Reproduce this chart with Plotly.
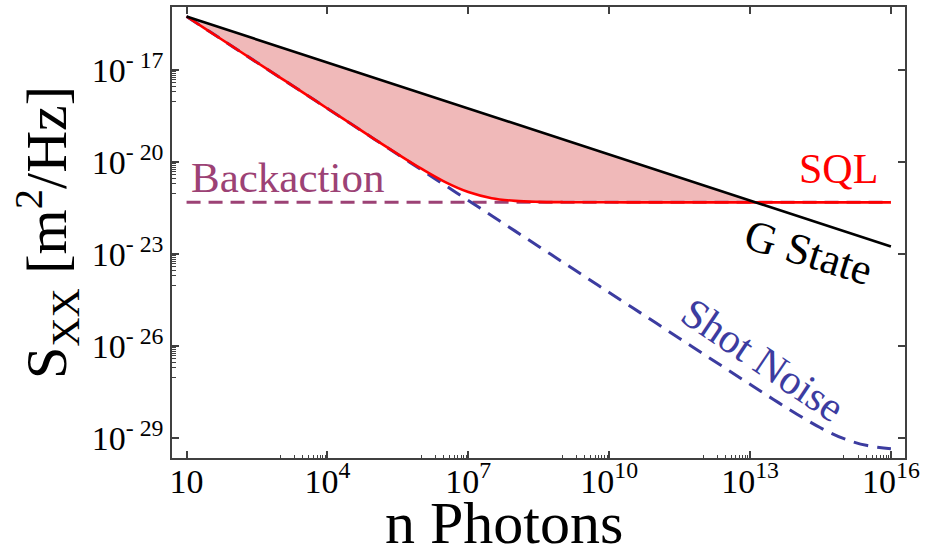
import plotly.graph_objects as go

# Photon number grid (half-decade steps from 10 to 1e16)
n_photons = [
    1e1, 3.16e1, 1e2, 3.16e2, 1e3, 3.16e3, 1e4, 3.16e4, 1e5, 3.16e5,
    1e6, 3.16e6, 1e7, 3.16e7, 1e8, 3.16e8, 1e9, 3.16e9, 1e10, 3.16e10,
    1e11, 3.16e11, 1e12, 3.16e12, 1e13, 3.16e13, 1e14, 3.16e14, 1e15,
    3.16e15, 1e16,
]

# Gaussian-state displacement noise [m^2/Hz]
g_state = [
    5.75e-16, 3.24e-16, 1.82e-16, 1.02e-16, 5.75e-17, 3.24e-17, 1.82e-17,
    1.02e-17, 5.75e-18, 3.24e-18, 1.82e-18, 1.02e-18, 5.75e-19, 3.24e-19,
    1.82e-19, 1.02e-19, 5.75e-20, 3.24e-20, 1.82e-20, 1.02e-20, 5.75e-21,
    3.24e-21, 1.82e-21, 1.02e-21, 5.75e-22, 3.24e-22, 1.82e-22, 1.02e-22,
    5.75e-23, 3.24e-23, 1.82e-23,
]

# Shot-noise contribution [m^2/Hz]
shot_noise = [
    5.75e-16, 1.82e-16, 5.75e-17, 1.82e-17, 5.75e-18, 1.82e-18, 5.75e-19,
    1.82e-19, 5.75e-20, 1.82e-20, 5.75e-21, 1.82e-21, 5.75e-22, 1.82e-22,
    5.75e-23, 1.82e-23, 5.75e-24, 1.82e-24, 5.75e-25, 1.82e-25, 5.75e-26,
    1.82e-26, 5.75e-27, 1.82e-27, 5.79e-28, 1.86e-28, 6.15e-29, 2.22e-29,
    9.75e-30, 5.82e-30, 4.58e-30,
]

# Standard quantum limit (shot noise + backaction) [m^2/Hz]
sql = [
    5.75e-16, 1.82e-16, 5.75e-17, 1.82e-17, 5.76e-18, 1.82e-18, 5.76e-19,
    1.83e-19, 5.80e-20, 1.87e-20, 6.25e-21, 2.32e-21, 1.08e-21, 6.82e-22,
    5.58e-22, 5.18e-22, 5.06e-22, 5.02e-22, 5.01e-22, 5.0e-22, 5.0e-22,
    5.0e-22, 5.0e-22, 5.0e-22, 5.0e-22, 5.0e-22, 5.0e-22, 5.0e-22,
    5.0e-22, 5.0e-22, 5.0e-22,
]

# Radiation-pressure backaction level
backaction_n = [1e1, 1e16]
backaction = [5.0e-22, 5.0e-22]

# Point where the G-state curve meets the SQL
crossover_n = 1.3e13
crossover_s = 5.0e-22

# Axis ticks
x_major = [1e1, 1e4, 1e7, 1e10, 1e13, 1e16]
x_labels = ["10", "10<sup>4</sup>", "10<sup>7</sup>", "10<sup>10</sup>",
            "10<sup>13</sup>", "10<sup>16</sup>"]
y_major = [1e-29, 1e-26, 1e-23, 1e-20, 1e-17]
y_labels = ["10<sup>- 29</sup>", "10<sup>- 26</sup>", "10<sup>- 23</sup>",
            "10<sup>- 20</sup>", "10<sup>- 17</sup>"]

RED = "#ff0000"
PURPLE = "#9c4275"
BLUE = "#3c3ca0"
FILL = "#f0b9b9"
SERIF = "Liberation Serif"
AXIS = "#404040"
X_RANGE = [0.69, 16.30]
Y_RANGE = [-29.64, -14.93]

# minor ticks: 1..9 x 10^(k-1) just below each major tick (except the first)
x_minor = [j * m / 10 for m in x_major[1:] for j in range(1, 10)]
y_minor = [j * m / 10 for m in y_major[1:] for j in range(1, 10)]

# region between the G state and the SQL, up to their crossing
fill_n = [v for v in n_photons if v <= 1e13] + [crossover_n]
k = len(fill_n) - 1
fill_sql = sql[:k] + [crossover_s]
fill_g = g_state[:k] + [crossover_s]

fig = go.Figure()

fig.add_trace(go.Scatter(
    x=fill_n, y=fill_sql, mode="lines",
    line=dict(width=0, shape="spline"), hoverinfo="skip", showlegend=False,
))
fig.add_trace(go.Scatter(
    x=fill_n, y=fill_g, mode="lines", fill="tonexty", fillcolor=FILL,
    line=dict(width=0, shape="spline"), hoverinfo="skip", showlegend=False,
))

fig.add_trace(go.Scatter(
    x=backaction_n, y=backaction, mode="lines", name="Backaction",
    line=dict(color=PURPLE, width=3, dash="14px,8px"), showlegend=False,
))
fig.add_trace(go.Scatter(
    x=n_photons, y=shot_noise, mode="lines", name="Shot Noise",
    line=dict(color=BLUE, width=3, dash="15px,9px", shape="spline"),
    showlegend=False,
))
fig.add_trace(go.Scatter(
    x=n_photons, y=sql, mode="lines", name="SQL",
    line=dict(color=RED, width=2.6, shape="spline"), showlegend=False,
))
fig.add_trace(go.Scatter(
    x=n_photons, y=g_state, mode="lines", name="G State",
    line=dict(color="black", width=2.6), showlegend=False,
))
# empty trace that hosts the minor-tick axes
fig.add_trace(go.Scatter(x=[], y=[], xaxis="x2", yaxis="y2",
                         hoverinfo="skip", showlegend=False))

major_common = dict(
    type="log",
    tickmode="array",
    ticks="inside",
    ticklen=7,
    tickwidth=1.5,
    tickcolor=AXIS,
    showline=True,
    linecolor=AXIS,
    linewidth=1.5,
    mirror="ticks",
    showgrid=False,
    zeroline=False,
    automargin=False,
    ticklabeloverflow="allow",
    tickfont=dict(family=SERIF, size=34, color="black"),
)

minor_common = dict(
    type="log",
    tickmode="array",
    ticks="inside",
    ticklen=3.5,
    tickwidth=1.2,
    tickcolor=AXIS,
    showticklabels=False,
    showline=False,
    showgrid=False,
    zeroline=False,
    automargin=False,
)

fig.update_layout(
    xaxis=dict(
        **major_common,
        range=X_RANGE,
        tickvals=x_major,
        ticktext=x_labels,
        ticklabelstandoff=-8,
    ),
    yaxis=dict(
        **major_common,
        range=Y_RANGE,
        tickvals=y_major,
        ticktext=y_labels,
        title=dict(text="S<sub>XX</sub> [m<sup>2</sup>/Hz]",
                   font=dict(family=SERIF, size=58, color="black"), standoff=6),
    ),
    xaxis2=dict(**minor_common, range=X_RANGE, tickvals=x_minor,
                overlaying="x", anchor="y2", side="bottom"),
    yaxis2=dict(**minor_common, range=Y_RANGE, tickvals=y_minor,
                overlaying="y", anchor="x2", side="left"),
)

# x-axis title
fig.add_annotation(
    xref="paper", yref="paper", x=0.453, y=-0.144, text="n Photons",
    showarrow=False, xanchor="center", yanchor="middle", borderpad=0,
    font=dict(family=SERIF, size=60, color="black"),
)

annotations = [
    dict(x=3.16, y=-20.49, text="Backaction", font=dict(color=PURPLE, size=43),
         textangle=0),
    dict(x=14.89, y=-20.2, text="SQL", font=dict(color=RED, size=42),
         textangle=0),
    dict(x=14.25, y=-22.95, text="G State", font=dict(color="black", size=44),
         textangle=17),
    dict(x=13.27, y=-26.45, text="Shot Noise", font=dict(color=BLUE, size=42),
         textangle=34),
]
for a in annotations:
    a["font"]["family"] = SERIF
    fig.add_annotation(xref="x", yref="y", showarrow=False,
                       xanchor="center", yanchor="middle", **a)

fig.update_layout(
    width=925,
    height=556,
    margin=dict(l=172, r=20, t=7, b=98),
    paper_bgcolor="white",
    plot_bgcolor="white",
    showlegend=False,
)

fig.write_html("out.html")
